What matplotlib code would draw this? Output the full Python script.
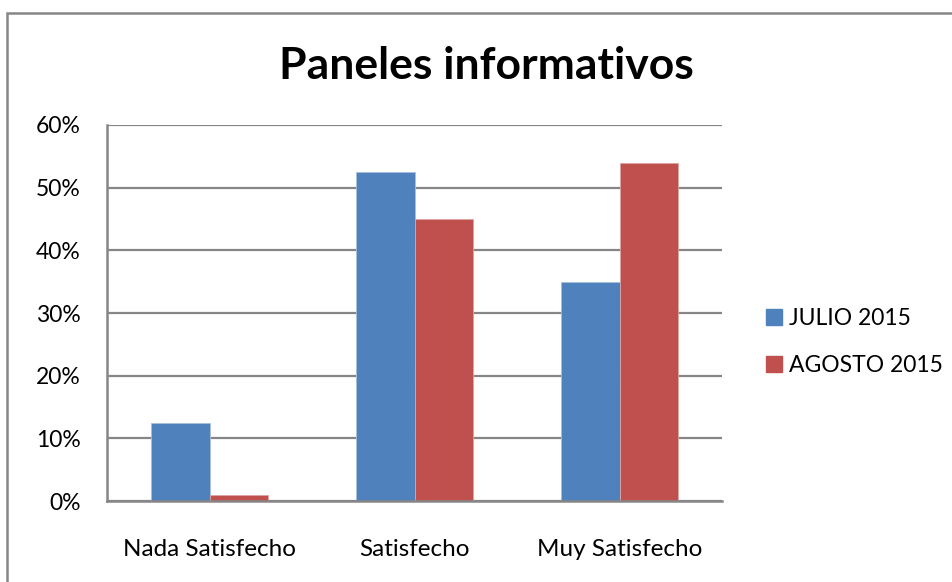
import matplotlib
matplotlib.use("Agg")
import matplotlib.pyplot as plt
import matplotlib.patches as mpatches
import numpy as np

categories = ["Nada Satisfecho", "Satisfecho", "Muy Satisfecho"]
series_names = ["JULIO 2015", "AGOSTO 2015"]
julio = [0.125, 0.525, 0.35]
agosto = [0.01, 0.45, 0.54]
yticks = [0, 0.1, 0.2, 0.3, 0.4, 0.5, 0.6]
ytick_labels = ["0%", "10%", "20%", "30%", "40%", "50%", "60%"]
title = "Paneles informativos"

plt.rcParams['font.family'] = ['Lato', 'DejaVu Sans']

W, H = 952, 582
fig = plt.figure(figsize=(W / 100, H / 100), dpi=100)
ax = fig.add_axes([107 / W, (H - 501) / H, (722 - 107) / W, (501 - 125) / H])

grid_c = "#868686"
blue = "#4F81BD"
red = "#C0504D"
x = np.arange(len(categories))
w = 0.283
ax.bar(x - w / 2, julio, w, color=blue, edgecolor="#A7C0DE", linewidth=0.6, label=series_names[0], zorder=3)
ax.bar(x + w / 2, agosto, w, color=red, edgecolor="#DCA5A4", linewidth=0.6, label=series_names[1], zorder=3)

ax.set_xlim(-0.5, 2.5)
ax.set_ylim(0, 0.6)
ax.set_yticks(yticks)
ax.set_yticklabels(ytick_labels)
ax.set_xticks(x)
ax.set_xticklabels(categories)
ax.tick_params(axis='both', length=0, colors="black")
ax.tick_params(axis='y', pad=19, labelsize=16.5)
ax.tick_params(axis='x', pad=27, labelsize=17.5)
ax.yaxis.grid(True, color=grid_c, linewidth=1.6, zorder=0)
ax.set_axisbelow(True)
for s in ["top", "right"]:
    ax.spines[s].set_visible(False)
for s in ["left", "bottom"]:
    ax.spines[s].set_color(grid_c)
    ax.spines[s].set_linewidth(1.8)
ax.spines["bottom"].set_zorder(4)

fig.text(486 / W, 1 - 66 / H, title, ha="center", va="center", fontsize=32, fontweight="bold")

handles = [mpatches.Patch(color=blue), mpatches.Patch(color=red)]
fig.legend(handles, series_names, loc="center left", bbox_to_anchor=(766 / W, 1 - 342 / H),
           frameon=False, fontsize=16.5, handlelength=0.7, handleheight=0.7,
           handletextpad=0.3, labelspacing=1.1, borderpad=0, borderaxespad=0)

border = mpatches.Rectangle((7 / W, -0.1), 2, 1 - 13 / H + 0.1, transform=fig.transFigure,
                            fill=False, edgecolor=grid_c, linewidth=1.8)
fig.patches.append(border)

fig.savefig("out.png", dpi=100)
